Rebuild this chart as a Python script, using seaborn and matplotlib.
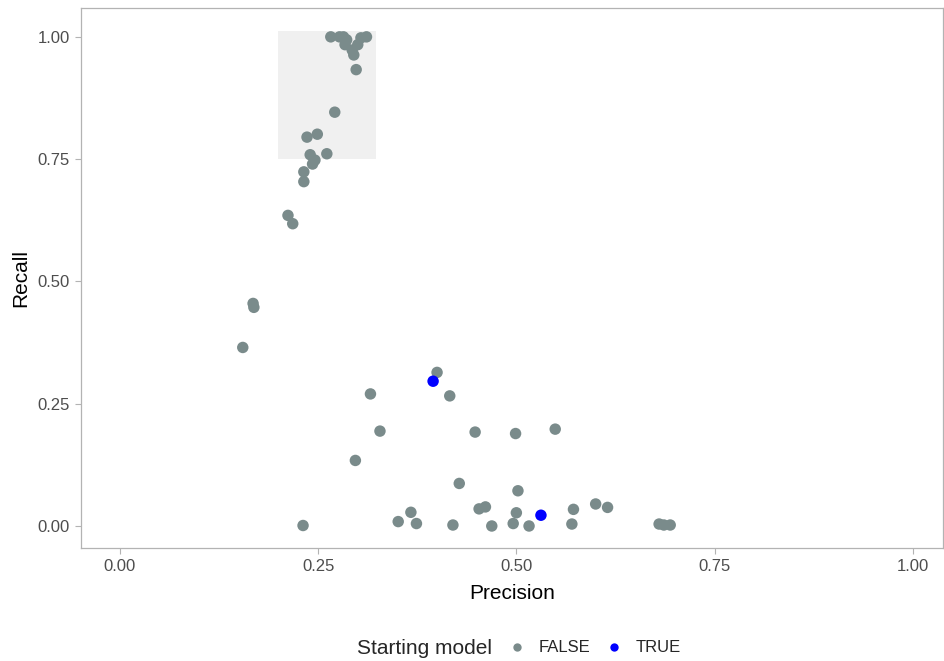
import matplotlib
matplotlib.use("Agg")
import matplotlib.pyplot as plt
from matplotlib.lines import Line2D
from matplotlib.patches import Rectangle
import pandas as pd
import seaborn as sns

# values
precision = [0.266, 0.277, 0.282, 0.286, 0.284, 0.293, 0.295, 0.300, 0.304, 0.311, 0.298,
             0.271, 0.236, 0.249, 0.240, 0.261, 0.246, 0.243, 0.232, 0.232,
             0.212, 0.218, 0.168, 0.169, 0.155,
             0.400, 0.316, 0.416, 0.328, 0.448, 0.499, 0.549, 0.297, 0.428, 0.502,
             0.231, 0.367, 0.351, 0.374, 0.420, 0.453, 0.461, 0.469, 0.500, 0.496, 0.516,
             0.572, 0.570, 0.600, 0.615, 0.680, 0.686, 0.694,
             0.395, 0.531]
recall = [1.000, 1.000, 1.000, 0.994, 0.984, 0.973, 0.963, 0.984, 0.998, 1.000, 0.933,
          0.846, 0.795, 0.801, 0.759, 0.761, 0.748, 0.740, 0.724, 0.704,
          0.635, 0.618, 0.455, 0.447, 0.365,
          0.314, 0.270, 0.266, 0.194, 0.192, 0.189, 0.198, 0.134, 0.087, 0.072,
          0.001, 0.028, 0.009, 0.005, 0.002, 0.035, 0.039, 0.000, 0.027, 0.005, 0.000,
          0.034, 0.004, 0.045, 0.038, 0.004, 0.002, 0.002,
          0.296, 0.022]
starting = ["FALSE"] * 53 + ["TRUE"] * 2

# highlighted region
rect_x = [0.200, 0.323]
rect_y = [0.750, 1.012]

ticks = [0.0, 0.25, 0.5, 0.75, 1.0]
tick_labels = ["0.00", "0.25", "0.50", "0.75", "1.00"]
colors = {"FALSE": "#7A8B8B", "TRUE": "#0000FF"}

df = pd.DataFrame({"Precision": precision, "Recall": recall, "Starting model": starting})

sns.set_style("white")
plt.rcParams["font.family"] = ["Liberation Sans", "DejaVu Sans"]

fig = plt.figure(figsize=(9.44, 6.61), dpi=100)
ax = fig.add_axes([81 / 944, 1 - 548 / 661, 862 / 944, 540 / 661])

ax.add_patch(Rectangle((rect_x[0], rect_y[0]), rect_x[1] - rect_x[0], rect_y[1] - rect_y[0],
                       facecolor="#F0F0F0", edgecolor="none", zorder=0))

sns.scatterplot(data=df, x="Precision", y="Recall", hue="Starting model",
                palette=colors, s=68, linewidth=0, legend=False, ax=ax, zorder=3)

ax.set_xlim(-0.049, 1.038)
ax.set_ylim(-0.045, 1.059)
ax.set_xticks(ticks)
ax.set_xticklabels(tick_labels)
ax.set_yticks(ticks)
ax.set_yticklabels(tick_labels)
ax.tick_params(axis="both", which="both", direction="out", length=4, width=0.8,
               color="#B3B3B3", labelcolor="#4D4D4D", labelsize=12, pad=4,
               bottom=True, left=True)
for sp in ax.spines.values():
    sp.set_visible(True)
    sp.set_color("#B3B3B3")
    sp.set_linewidth(0.9)

ax.set_xlabel("Precision", fontsize=15, color="black", labelpad=7)
ax.set_ylabel("Recall", fontsize=15, color="black", labelpad=5)

# legend at the bottom, title on the left
fig.text(357 / 944, 1 - 648 / 661, "Starting model", fontsize=15, ha="left", va="center")
handles = [Line2D([], [], marker="o", linestyle="", markersize=6, markeredgewidth=0,
                  color=colors[k]) for k in ["FALSE", "TRUE"]]
fig.legend(handles, ["FALSE", "TRUE"], loc="center left",
           bbox_to_anchor=(510 / 944, 1 - 648 / 661), ncol=2, frameon=False,
           fontsize=12, borderpad=0, borderaxespad=0, handlelength=0.8,
           handletextpad=0.92, columnspacing=1.0)

fig.savefig("out.png", dpi=100)
